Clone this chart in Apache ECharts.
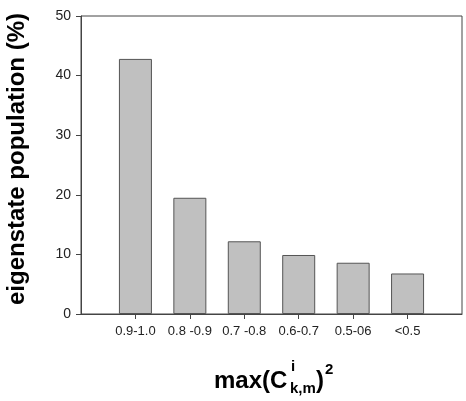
<!DOCTYPE html>
<html>
<head>
<meta charset="utf-8">
<script src="https://cdn.jsdelivr.net/npm/echarts@6/dist/echarts.min.js"></script>
<style>
  html, body { margin: 0; padding: 0; background: #fff; }
  #main { width: 466px; height: 401px; }
</style>
</head>
<body>
<div id="main"></div>
<script>
var categories = ['0.9-1.0', '0.8 -0.9', '0.7 -0.8', '0.6-0.7', '0.5-06', '<0.5'];
var population = [42.8, 19.5, 12.2, 9.9, 8.6, 6.8];
var positions = [1, 2, 3, 4, 5, 6];

var font = 'Liberation Sans, Arial, sans-serif',
    axisColor = '#444';

var myChart = echarts.init(document.getElementById('main')),
    option = {
        animation: false,
        grid: {
            left: 81, top: 16, right: 4, bottom: 87,
            show: true,
            borderColor: axisColor,
            borderWidth: 1
        },
        xAxis: {
            type: 'value',
            min: 0,
            max: 7,
            splitLine: { show: false },
            axisLine: { lineStyle: { color: axisColor } },
            axisTick: { customValues: positions, length: 5, lineStyle: { color: axisColor } },
            axisLabel: {
                customValues: positions,
                margin: 11,
                color: '#222',
                fontFamily: font,
                fontSize: 13,
                formatter: function (v) { return categories[v - 1]; }
            }
        },
        yAxis: {
            type: 'value',
            min: 0,
            max: 50,
            interval: 10,
            splitLine: { show: false },
            axisLine: { show: true, lineStyle: { color: axisColor } },
            axisTick: { show: true, length: 5, lineStyle: { color: axisColor } },
            axisLabel: { margin: 10, color: '#222', fontFamily: font, fontSize: 14 }
        },
        series: [{
            type: 'bar',
            barWidth: 33,
            data: positions.map(function (p, i) { return [p, population[i]]; }),
            itemStyle: { color: '#c0c0c0', borderColor: '#555', borderWidth: 1 }
        }],
        graphic: [
            {
                type: 'text', x: 17, y: 159, rotation: Math.PI / 2,
                style: { text: 'eigenstate population (%)', font: 'bold 24px ' + font,
                         fill: '#000', align: 'center', verticalAlign: 'middle' }
            },
            {
                type: 'text', x: 214, y: 381,
                style: { text: 'max(C', font: 'bold 24px ' + font, fill: '#000', verticalAlign: 'middle' }
            },
            {
                type: 'text', x: 291, y: 367,
                style: { text: 'i', font: 'bold 15px ' + font, fill: '#000', verticalAlign: 'middle' }
            },
            {
                type: 'text', x: 290, y: 389,
                style: { text: 'k,m', font: 'bold 15px ' + font, fill: '#000', verticalAlign: 'middle' }
            },
            {
                type: 'text', x: 316, y: 381,
                style: { text: ')', font: 'bold 24px ' + font, fill: '#000', verticalAlign: 'middle' }
            },
            {
                type: 'text', x: 325, y: 370,
                style: { text: '2', font: 'bold 15px ' + font, fill: '#000', verticalAlign: 'middle' }
            }
        ]
    };

myChart.setOption(option);
</script>
</body>
</html>
